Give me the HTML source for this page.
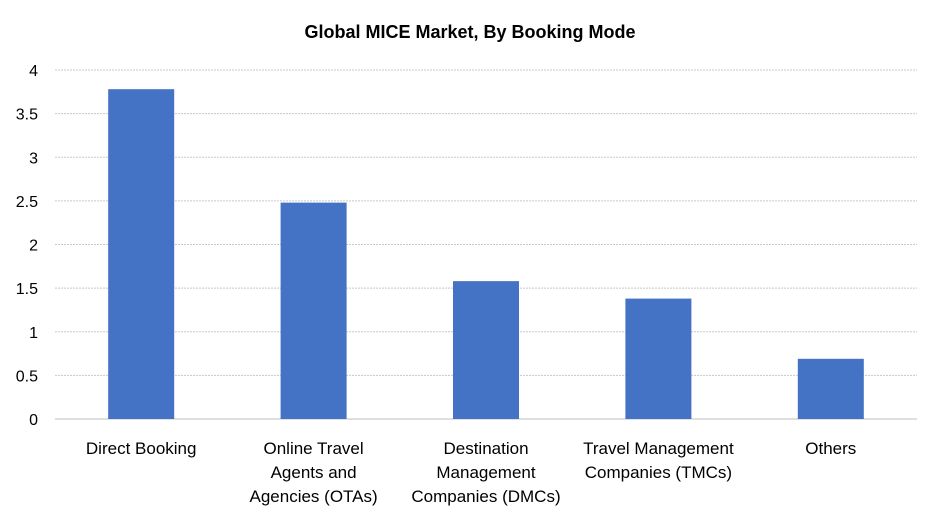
<!DOCTYPE html>
<html><head><meta charset="utf-8"><style>
body{margin:0;background:#fff;}
svg text{font-family:"Liberation Sans",Calibri,sans-serif;fill:#000;}
</style></head><body>
<svg width="940" height="523" xmlns="http://www.w3.org/2000/svg">
<rect width="940" height="523" fill="#fff"/>
<text x="470" y="38" text-anchor="middle" font-size="18" font-weight="bold">Global MICE Market, By Booking Mode</text>
<g id="grid"></g><g id="bars"></g><g id="ylabels"></g><g id="xlabels"></g>
</svg>
<script>
const categories=[["Direct Booking"],["Online Travel","Agents and","Agencies (OTAs)"],["Destination","Management","Companies (DMCs)"],["Travel Management","Companies (TMCs)"],["Others"]];
const values=[3.78,2.48,1.58,1.38,0.69];
const ticks=[0,0.5,1,1.5,2,2.5,3,3.5,4];
const NS="http://www.w3.org/2000/svg";
const x0=55,x1=917,yTop=70,yBot=419,maxV=4;
const y=v=>yBot-(v/maxV)*(yBot-yTop);
const band=(x1-x0)/categories.length;
const g=document.getElementById('grid'),b=document.getElementById('bars'),yl=document.getElementById('ylabels'),xl=document.getElementById('xlabels');
ticks.forEach(t=>{
 const l=document.createElementNS(NS,'line');
 
 
 l.setAttribute('x1',x0);l.setAttribute('x2',x1);l.setAttribute('y1',y(t));l.setAttribute('y2',y(t));
 l.setAttribute('stroke',t===0?'#bfbfbf':'#c8c8c8');l.setAttribute('stroke-width','1');
 if(t!==0)l.setAttribute('stroke-dasharray','2,1');
 g.appendChild(l);
 const tx=document.createElementNS(NS,'text');
 
 
 tx.setAttribute('x',38);tx.setAttribute('y',y(t)+6);tx.setAttribute('text-anchor','end');tx.setAttribute('font-size','16');
 tx.textContent=String(t);yl.appendChild(tx);
});
values.forEach((v,i)=>{
 const cx=x0+band*(i+0.5),w=66;
 const r=document.createElementNS(NS,'rect');
 
 
 r.setAttribute('x',cx-w/2);r.setAttribute('width',w);r.setAttribute('y',y(v));r.setAttribute('height',yBot-y(v));
 r.setAttribute('fill','#4472c4');b.appendChild(r);
 categories[i].forEach((line,j)=>{
  const t=document.createElementNS(NS,'text');
  
  
  t.setAttribute('x',cx);t.setAttribute('y',454+j*24);t.setAttribute('text-anchor','middle');t.setAttribute('font-size','17');
  t.textContent=line;xl.appendChild(t);
 });
});
</script>
</body></html>
